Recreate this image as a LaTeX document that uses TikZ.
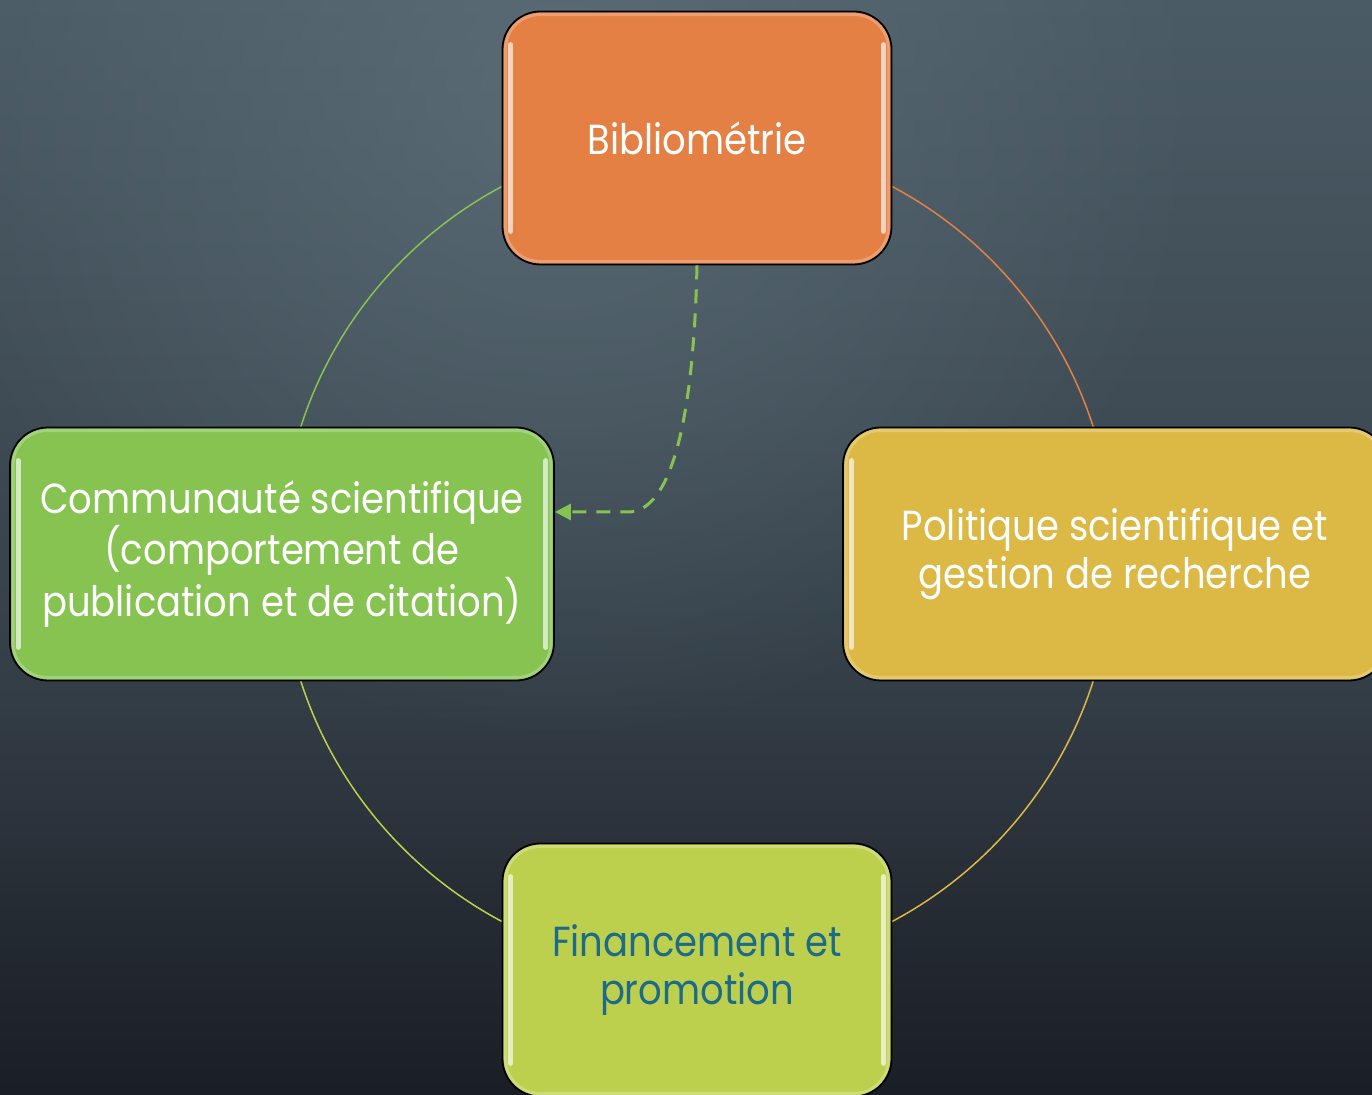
\documentclass[tikz,border=0pt]{standalone}
\usepackage{fontspec}
\setmainfont{Poppins}[FakeStretch=0.88]
\usetikzlibrary{arrows.meta,calc,fadings}
\definecolor{cOrange}{HTML}{E48044}
\definecolor{cGreen}{HTML}{86C351}
\definecolor{cGold}{HTML}{DCB845}
\definecolor{cLime}{HTML}{BDD04D}
\definecolor{cTeal}{HTML}{1D6A89}
\definecolor{bg0}{HTML}{1A1E25}
\definecolor{bg1}{HTML}{262C34}
\definecolor{bg2}{HTML}{333D46}
\definecolor{bg3}{HTML}{3E4B54}
\definecolor{bg4}{HTML}{4B5B65}
\definecolor{bgHL}{HTML}{62747E}
\pgfdeclareverticalshading{bgv}{100bp}{color(0bp)=(bg0); color(25bp)=(bg0); color(33.9bp)=(bg1); color(43bp)=(bg2); color(55.8bp)=(bg3); color(75bp)=(bg4); color(100bp)=(bg4)}
\tikzfading[name=glow, inner color=transparent!35, outer color=transparent!100]
\newcommand{\gloss}[1]{%
  \draw[white, opacity=0.25, line width=3pt, rounded corners=34pt]
    ([shift={(4pt,-4pt)}]#1.north west) rectangle ([shift={(-4pt,4pt)}]#1.south east);
  \draw[white, opacity=0.65, line width=5pt, line cap=round]
    ([shift={(9pt,-34pt)}]#1.north west) -- ([shift={(9pt,34pt)}]#1.south west);
  \draw[white, opacity=0.65, line width=5pt, line cap=round]
    ([shift={(-9pt,-34pt)}]#1.north east) -- ([shift={(-9pt,34pt)}]#1.south east);
}
\begin{document}
\begin{tikzpicture}[x=1pt,y=1pt,
  box/.style={draw=black, line width=1.8pt, rounded corners=38pt,
    minimum height=253pt, align=center, inner sep=0pt,
    font=\fontsize{42}{48}\selectfont, text=white},
  narrow/.style={minimum width=389pt},
  wide/.style={minimum width=544pt},
  arcline/.style={line width=1.5pt},
  link/.style={draw=cGreen, line width=3pt, dash pattern=on 14pt off 10pt,
    -{Triangle[length=16pt,width=16pt]}}]
\useasboundingbox (0,0) rectangle (1372,1094);
\clip (0,0) rectangle (1372,1094);
\shade[shading=bgv] (0,0) rectangle (1372,1094);
\fill[bgHL, path fading=glow] (560,1000) circle (650);
% cycle arcs
\draw[arcline, cOrange] (697,956) arc[start angle=90, end angle=0, radius=416];
\draw[arcline, cGold] (1113,540) arc[start angle=0, end angle=-90, radius=416];
\draw[arcline, cLime] (697,124) arc[start angle=270, end angle=180, radius=416];
\draw[arcline, cGreen] (281,540) arc[start angle=180, end angle=90, radius=416];
% boxes
\node[box, narrow, fill=cOrange] (biblio) at (697,956) {Bibliométrie};
\node[box, wide, fill=cGreen] (comm) at (282,540) {Communauté scientifique\\(comportement de\\publication et de citation)};
\node[box, wide, fill=cGold] (poli) at (1115,540) {Politique scientifique et\\gestion de recherche};
\node[box, narrow, fill=cLime, text=cTeal] (fin) at (697,124) {Financement et\\promotion};
\gloss{biblio}
\gloss{comm}
\gloss{poli}
\gloss{fin}
% dashed link
\coordinate (tip) at ($(comm.east)+(0,42)$);
\draw[link] (biblio.south) .. controls (693,650) and (665,582) .. (628,582) -- (tip);
\end{tikzpicture}
\end{document}
